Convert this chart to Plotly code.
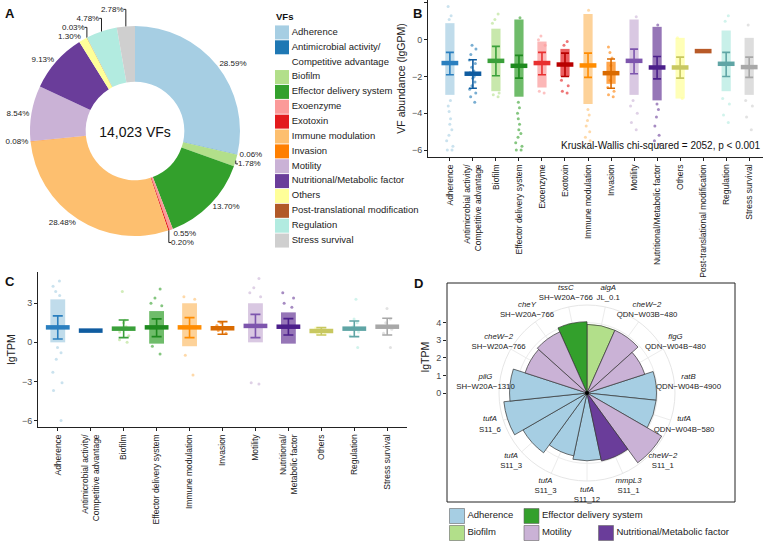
import plotly.graph_objects as go

W, H = 763, 541
FONT = "Liberation Sans, Arial, sans-serif"

# ---------------- Panel A data ----------------
vf_cats = ["Adherence", "Antimicrobial activity/<br>Competitive advantage", "Biofilm",
           "Effector delivery system", "Exoenzyme", "Exotoxin", "Immune modulation",
           "Invasion", "Motility", "Nutritional/Metabolic factor", "Others",
           "Post-translational modification", "Regulation", "Stress survival"]
vf_pct = [28.59, 0.06, 1.78, 13.70, 0.55, 0.20, 28.48, 0.08, 8.54, 9.13, 1.30, 0.03, 4.78, 2.78]
vf_colors = ["#A6CEE3", "#1F78B4", "#B2DF8A", "#33A02C", "#FB9A99", "#E31A1C", "#FDBF6F",
             "#FF7F00", "#CAB2D6", "#6A3D9A", "#FFFF99", "#B15928", "#B2EBE0", "#CFCFCF"]
vf_dark = ["#2A7FBF", "#0F5CA0", "#3AA03A", "#1F8A1F", "#E83030", "#B80000", "#FF8C00",
           "#D96A00", "#7D55AD", "#4B1F8A", "#C8C860", "#B85A28", "#5FA5A5", "#A8A8A8"]
total_vfs = "14,023 VFs"

# ---------------- Panel B data ----------------
b_cats = ["Adherence", "Antimicrobial activity/<br>Competitive advantage", "Biofilm",
          "Effector delivery system", "Exoenzyme", "Exotoxin", "Immune modulation",
          "Invasion", "Motility", "Nutritional/Metabolic factor", "Others",
          "Post-translational modification", "Regulation", "Stress survival"]
b_mean = [-1.27, -1.85, -1.15, -1.42, -1.27, -1.35, -1.40, -1.82, -1.15, -1.51, -1.51, -0.62, -1.31, -1.49]
b_upper = [-0.69, -1.09, -0.36, -0.85, -0.69, -0.73, -0.73, -1.05, -0.51, -0.91, -0.95, None, -0.69, -0.95]
b_lower = [-1.91, -2.64, -1.96, -2.09, -1.91, -2.00, -2.05, -2.64, -1.85, -2.13, -2.09, None, -2.00, -2.05]
b_band_low = [-3.0, None, -2.8, -3.1, -2.6, -2.0, -3.5, -2.4, -3.0, -3.3, -3.2, None, -2.8, -3.0]
b_band_high = [0.9, None, 0.6, 1.1, -0.1, -0.5, 1.4, -1.2, 1.1, 0.7, 0.1, None, 0.5, 0.1]
b_points = [
    [1.8, 1.3, 1.1, -3.3, -3.6, -3.9, -4.3, -4.6, -4.9, -5.2, -5.5, -5.8, -6.0, -6.0],
    [-0.3, -0.5, -0.8, -1.1, -1.3, -1.5, -1.7, -1.8, -1.9, -2.0, -2.1, -2.3, -2.5, -2.7, -2.9, -3.1, -3.4],
    [1.4, 1.1, 0.9, -2.9, -3.0, -3.1],
    [1.2, -3.4, -3.7, -4.0, -4.3, -4.6, -4.9, -5.1, -5.3, -5.6, -5.8, -6.0, -6.0],
    [0.2, 0.0, -0.3, -2.8, -2.9],
    [-0.1, -0.3, -2.2, -2.5, -2.8, -2.9],
    [1.6, -3.8, -4.1, -4.4, -4.7, -5.0, -5.3, -5.5],
    [-0.4, -0.7, -1.0, -1.4, -1.8, -2.2, -2.6, -2.8, -3.0, -3.1],
    [1.25, -3.3, -3.6, -4.0, -4.5, -4.9],
    [0.8, -3.5, -3.8, -4.2, -4.7, -5.2, -5.5, -5.7],
    [0.1, -3.2],
    [],
    [1.3, 1.0, -3.2, -3.5, -4.1, -4.5],
    [0.8, -3.3, -3.6, -4.2, -4.9],
]
kw_text = "Kruskal-Wallis chi-squared = 2052, p < 0.001"

# ---------------- Panel C data ----------------
c_cats = ["Adherence", "Antimicrobial activity/<br>Competitive advantage", "Biofilm",
          "Effector delivery system", "Immune modulation", "Invasion", "Motility",
          "Nutritional/<br>Metabolic factor", "Others", "Regulation", "Stress survival"]
c_idx = [0, 1, 2, 3, 6, 7, 8, 9, 10, 12, 13]   # colour index into vf palette
c_mean = [1.15, 0.90, 1.05, 1.15, 1.15, 1.08, 1.26, 1.20, 0.87, 1.05, 1.20]
c_upper = [2.03, None, 1.72, 1.80, 1.90, 1.59, 2.15, 1.82, 1.13, 1.64, 1.85]
c_lower = [0.26, None, 0.36, 0.44, 0.36, 0.62, 0.36, 0.56, 0.56, 0.44, 0.56]
c_band_low = [0.0, None, None, -0.1, -0.3, None, 0.0, -0.1, None, None, None]
c_band_high = [3.3, None, None, 2.4, 3.0, None, 3.0, 2.3, None, None, None]
c_points = [
    [4.7, 4.3, 3.9, 3.6, -0.4, -0.8, -1.3, -2.3, -3.1, -3.7, -6.0],
    [],
    [3.9, 1.7, 1.5, 1.2, 1.0, 0.8, 0.5, 0.2, 0.0],
    [4.1, 3.4, 3.0, 2.8, -0.3, -0.9],
    [3.5, 3.3, -1.0, -2.5],
    [1.5, 1.3, 1.1, 0.9, 0.7],
    [4.9, 4.2, 3.8, 3.5, -3.1, -3.2],
    [3.8, 3.4, 3.0, 2.7],
    [1.1, 0.9, 0.7, 0.6],
    [3.3, 1.8, 1.5, 1.2, 1.0, 0.8, 0.5, -0.4],
    [2.6, 1.8, 1.5, 1.2, 1.0, 0.7, -0.4],
]

# ---------------- Panel D data (clockwise from 12 o'clock) ----------------
d_genes = ["algA", "cheW\u22122", "flgG", "ratB", "tufA", "cheW\u22122", "mmpL3", "tufA",
           "tufA", "tufA", "tufA", "pilG", "cheW\u22122", "cheY", "tssC"]
d_samples = ["JL_0.1", "QDN\u2212W03B\u2212480", "QDN\u2212W04B\u2212480", "QDN\u2212W04B\u22124900",
             "QDN\u2212W04B\u2212580", "S11_1", "S11_1", "S11_12", "S11_3", "S11_3", "S11_6",
             "SH\u2212W20A\u22121310", "SH\u2212W20A\u2212766", "SH\u2212W20A\u2212766", "SH\u2212W20A\u2212766"]
d_class = ["Biofilm", "Motility", "Motility", "Adherence", "Adherence", "Motility",
           "Nutritional/Metabolic factor", "Adherence", "Adherence", "Adherence", "Adherence",
           "Adherence", "Motility", "Motility", "Effector delivery system"]
d_lgtpm = [3.9, 3.9, 3.45, 3.95, 3.95, 4.9, 3.95, 3.85, 3.65, 4.2, 4.75, 4.4, 3.7, 3.8, 4.05]
d_legend_order = ["Adherence", "Biofilm", "Effector delivery system", "Motility",
                  "Nutritional/Metabolic factor"]
d_legend_col = [0, 0, 1, 1, 2]
d_legend_row = [0, 1, 0, 1, 1]
d_class_colors = {"Adherence": "#A6CEE3", "Biofilm": "#B2DF8A", "Effector delivery system": "#33A02C",
                  "Motility": "#CAB2D6", "Nutritional/Metabolic factor": "#6A3D9A"}
D_RMAX = 5.0        # radial range of the bar panel
D_LABEL_RMAX = 6.3  # radial range of the (same-scale, larger) label layer
D_LABEL_R = 5.8     # radius where the sector labels sit

fig = go.Figure()


def px_x(p):
    return p / W


def px_y(p):
    return 1 - p / H


# ---------------- Panel A ----------------
fig.add_trace(go.Pie(
    labels=vf_cats, values=vf_pct, sort=False, direction="clockwise", rotation=0,
    hole=0.47, marker=dict(colors=vf_colors, line=dict(width=0)),
    text=[f"{v:.2f}%" for v in vf_pct], textinfo="text", textposition="outside",
    textfont=dict(size=8, color="#222", family=FONT),
    domain=dict(x=[px_x(30), px_x(240)], y=[px_y(236), px_y(26)]),
    title=dict(text=total_vfs, position="middle center", font=dict(size=14, family=FONT, color="#111")),
    hoverinfo="label+percent", showlegend=False,
))
# legend key for panel A on a hidden categorical axis; second lines of long labels get their own row
key_rows, key_text, key_color, key_opacity = [], [], [], []
for c, col in zip(vf_cats, vf_colors):
    parts = c.split("<br>")
    key_rows.append(c); key_text.append(parts[0]); key_color.append(col); key_opacity.append(1)
    for j, extra in enumerate(parts[1:]):
        key_rows.append(f"{c}#{j}"); key_text.append(extra); key_color.append(col); key_opacity.append(0)
fig.add_trace(go.Scatter(
    x=[0] * len(key_rows), y=key_rows, mode="markers+text", text=key_text, textposition="middle right",
    textfont=dict(size=9.5, color="#222", family=FONT),
    marker=dict(symbol="square", size=14, color=key_color, opacity=key_opacity, line=dict(width=0)),
    xaxis="x4", yaxis="y4", showlegend=False, hoverinfo="skip", cliponaxis=False,
))


# ---------------- Panel B / C helper ----------------
def strip_panel(xa, ya, cats, idxs, means, ups, lows, blo, bhi, pts, mean_size, cap_w, band_w):
    bx, by, bb, bc = [], [], [], []
    for k, c in enumerate(cats):
        if blo[k] is not None:
            bx.append(c); bb.append(blo[k]); by.append(bhi[k] - blo[k]); bc.append(vf_colors[idxs[k]])
    fig.add_trace(go.Bar(x=bx, y=by, base=bb, width=band_w, marker=dict(color=bc, line=dict(width=0)),
                         opacity=0.7, xaxis=xa, yaxis=ya, showlegend=False, hoverinfo="skip"))
    for k, c in enumerate(cats):
        if pts[k]:
            fig.add_trace(go.Box(x=[c] * len(pts[k]), y=pts[k], boxpoints="all", jitter=0.9, pointpos=0,
                                 width=band_w, fillcolor="rgba(0,0,0,0)", line=dict(width=0),
                                 marker=dict(size=3, color=vf_colors[idxs[k]], opacity=0.6),
                                 xaxis=xa, yaxis=ya, showlegend=False, hoverinfo="skip"))
    for k, c in enumerate(cats):
        err = None
        if ups[k] is not None:
            err = dict(type="data", symmetric=False, array=[ups[k] - means[k]],
                       arrayminus=[means[k] - lows[k]], thickness=1.6, width=cap_w,
                       color=vf_dark[idxs[k]])
        fig.add_trace(go.Scatter(x=[c], y=[means[k]], mode="markers",
                                 marker=dict(symbol="line-ew", size=mean_size,
                                             line=dict(width=4.5, color=vf_dark[idxs[k]])),
                                 error_y=err, xaxis=xa, yaxis=ya, showlegend=False, hoverinfo="skip"))


strip_panel("x", "y", b_cats, list(range(14)), b_mean, b_upper, b_lower, b_band_low, b_band_high,
            b_points, 12, 4, 0.4)
strip_panel("x2", "y2", c_cats, c_idx, c_mean, c_upper, c_lower, c_band_low, c_band_high,
            c_points, 17, 5, 0.45)

# ---------------- Panel D ----------------
d_keys = [f"{g}|{s}|{i}" for i, (g, s) in enumerate(zip(d_genes, d_samples))]
d_labels = [f"<i>{g}</i><br>{s}" for g, s in zip(d_genes, d_samples)]
for cls in d_legend_order:
    th = [d_keys[i] for i in range(len(d_keys)) if d_class[i] == cls]
    rr = [d_lgtpm[i] for i in range(len(d_keys)) if d_class[i] == cls]
    fig.add_trace(go.Barpolar(theta=th, r=rr, name=cls, subplot="polar", showlegend=False,
                              marker=dict(color=d_class_colors[cls], line=dict(color="#333", width=0.7))))
fig.add_trace(go.Scatterpolar(r=[0], theta=[d_keys[0]], mode="markers", subplot="polar",
                              marker=dict(size=4, color="black"), showlegend=False, hoverinfo="skip"))
# sector labels on an overlaid, same-scale polar layer
fig.add_trace(go.Scatterpolar(r=[D_LABEL_R] * len(d_keys), theta=d_keys, mode="text", text=d_labels,
                              textposition="middle center", subplot="polar2",
                              textfont=dict(size=7.8, color="#222", family=FONT),
                              showlegend=False, hoverinfo="skip"))
# proxy axis carrying the lgTPM scale of panel D
fig.add_trace(go.Scatter(x=[0], y=[0], mode="markers", marker=dict(opacity=0), xaxis="x3", yaxis="y3",
                         showlegend=False, hoverinfo="skip"))
# legend key for panel D
fig.add_trace(go.Scatter(
    x=d_legend_col, y=d_legend_row,
    mode="markers+text", text=d_legend_order, textposition="middle right",
    textfont=dict(size=9.5, color="#222", family=FONT),
    marker=dict(symbol="square", size=15, color=[d_class_colors[c] for c in d_legend_order],
                line=dict(width=0.6, color="#666")),
    xaxis="x5", yaxis="y5", showlegend=False, hoverinfo="skip", cliponaxis=False,
))

axis_common = dict(showline=True, linecolor="#222", linewidth=1, ticks="outside", ticklen=3,
                   tickcolor="#222", showgrid=False, zeroline=False, automargin=False)
ytick = dict(size=9, color="#4d4d4d", family=FONT)
xtick = dict(size=8.5, color="#222", family=FONT)
hidden = dict(visible=False, showgrid=False, zeroline=False, automargin=False)

# polar geometry: bar layer radius 88 px, label layer scaled so 1 unit = same px
cx, cy = 587, 393
r_bar = 88
r_lab = r_bar * D_LABEL_RMAX / D_RMAX

fig.update_layout(
    width=W, height=H, margin=dict(l=0, r=0, t=0, b=0, autoexpand=False),
    paper_bgcolor="white", plot_bgcolor="white", showlegend=False,
    font=dict(family=FONT, size=9, color="#222"),
    barmode="overlay", boxmode="overlay",
    xaxis=dict(domain=[px_x(428), 1.0], anchor="y", type="category", categoryorder="array",
               categoryarray=b_cats, range=[-0.95, 13.6], tickangle=-90, tickfont=xtick, **axis_common),
    yaxis=dict(domain=[px_y(157), 1.0], anchor="x", range=[-6.38, 2.16], tickvals=[-6, -4, -2, 0, 2],
               ticktext=["\u22126", "\u22124", "\u22122", "0", "2"], tickfont=ytick,
               title=dict(text="VF abundance (lgGPM)", font=dict(size=10.5, color="#222"), standoff=4),
               **axis_common),
    xaxis2=dict(domain=[px_x(38), px_x(407)], anchor="y2", type="category", categoryorder="array",
                categoryarray=c_cats, range=[-0.6, 10.6], tickangle=-90, tickfont=xtick, **axis_common),
    yaxis2=dict(domain=[px_y(427), px_y(272)], anchor="x2", range=[-6.5, 5.4], tickvals=[-6, -3, 0, 3],
                ticktext=["\u22126", "\u22123", "0", "3"], tickfont=ytick,
                title=dict(text="lgTPM", font=dict(size=10.5, color="#222"), standoff=4),
                **axis_common),
    xaxis3=dict(domain=[px_x(447), px_x(448)], anchor="y3", range=[0, 1], **hidden),
    yaxis3=dict(domain=[px_y(395), px_y(319)], anchor="x3", range=[-0.1, 4.2], tickvals=[0, 1, 2, 3, 4],
                tickfont=ytick,
                title=dict(text="lgTPM", font=dict(size=10.5, color="#222"), standoff=4),
                **{**axis_common, "showline": False}),
    xaxis4=dict(domain=[px_x(282), px_x(420)], anchor="y4", range=[0, 1], **hidden),
    yaxis4=dict(domain=[px_y(248), px_y(25)], anchor="x4", type="category", categoryorder="array",
                categoryarray=key_rows, range=[len(key_rows) - 0.5, -0.5], **hidden),
    xaxis5=dict(domain=[px_x(457), px_x(606)], anchor="y5", range=[0, 2], **hidden),
    yaxis5=dict(domain=[px_y(533), px_y(516)], anchor="x5", range=[1, 0], **hidden),
    polar=dict(
        domain=dict(x=[px_x(cx - r_bar), px_x(cx + r_bar)], y=[px_y(cy + r_bar), px_y(cy - r_bar)]),
        bgcolor="white", bargap=0, hole=0,
        radialaxis=dict(range=[0, D_RMAX], showticklabels=False, ticks="", showline=False,
                        gridcolor="#ececec", tickvals=[1, 2, 3, 4, 5]),
        angularaxis=dict(type="category", categoryorder="array", categoryarray=d_keys,
                         showticklabels=False, rotation=78, direction="clockwise", showline=True,
                         linecolor="#e6e6e6", gridcolor="#ececec", ticks=""),
    ),
    polar2=dict(
        domain=dict(x=[px_x(cx - r_lab), px_x(cx + r_lab)], y=[px_y(cy + r_lab), px_y(cy - r_lab)]),
        bgcolor="rgba(0,0,0,0)",
        radialaxis=dict(range=[0, D_LABEL_RMAX], visible=False, showgrid=False),
        angularaxis=dict(type="category", categoryorder="array", categoryarray=d_keys,
                         rotation=78, direction="clockwise", visible=False, showgrid=False,
                         showline=False, showticklabels=False, ticks=""),
    ),
    shapes=[dict(type="rect", xref="paper", yref="paper", x0=px_x(447), x1=px_x(735),
                 y0=px_y(502), y1=px_y(283), line=dict(color="#222", width=1), layer="below")],
    annotations=[
        dict(text="<b>A</b>", x=px_x(3), y=px_y(4), xref="paper", yref="paper", xanchor="left", yanchor="top",
             showarrow=False, font=dict(size=13, color="#111")),
        dict(text="<b>B</b>", x=px_x(411), y=px_y(4), xref="paper", yref="paper", xanchor="left", yanchor="top",
             showarrow=False, font=dict(size=13, color="#111")),
        dict(text="<b>C</b>", x=px_x(3), y=px_y(272), xref="paper", yref="paper", xanchor="left", yanchor="top",
             showarrow=False, font=dict(size=13, color="#111")),
        dict(text="<b>D</b>", x=px_x(412), y=px_y(274), xref="paper", yref="paper", xanchor="left", yanchor="top",
             showarrow=False, font=dict(size=13, color="#111")),
        dict(text="<b>VFs</b>", x=px_x(274), y=px_y(16), xref="paper", yref="paper", xanchor="left",
             yanchor="middle", showarrow=False, font=dict(size=9.5, color="#111")),
        dict(text=kw_text, x=1.0, y=-5.75, xref="paper", yref="y", xanchor="right", yanchor="middle",
             showarrow=False, font=dict(size=10, color="#111")),
    ],
)

fig.write_html("out.html", config={"displayModeBar": False},
               post_script="document.body.style.margin='0px';document.body.style.overflow='hidden';")
